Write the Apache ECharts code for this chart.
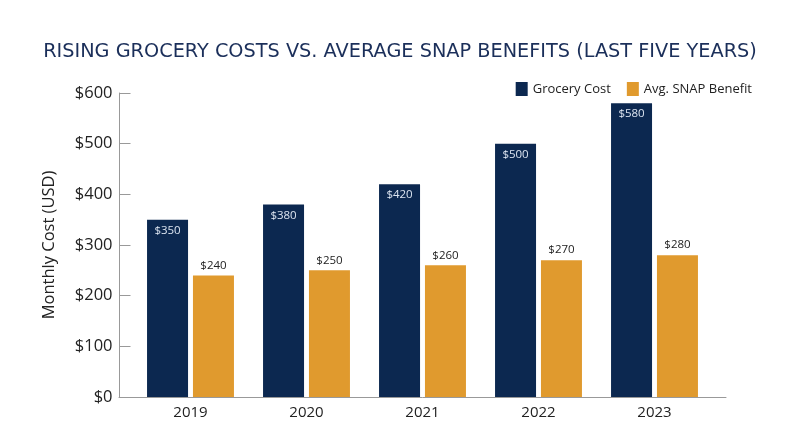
<!DOCTYPE html>
<html>
<head>
<meta charset="utf-8">
<style>
  html, body { margin: 0; padding: 0; background: #fff; }
  #main { width: 800px; height: 447px; }
</style>
<script src="https://cdn.jsdelivr.net/npm/echarts@6/dist/echarts.min.js"></script>
</head>
<body>
<div id="main"></div>
<script>
// chart data
var years = ['2019', '2020', '2021', '2022', '2023'];
var groceryCost = [350, 380, 420, 500, 580];
var snapBenefit = [240, 250, 260, 270, 280];
var yTicks = [0, 100, 200, 300, 400, 500, 600];

var navy = '#0c2850';
var gold = '#e09a2e';
var font = 'Open Sans';

var chart = echarts.init(document.getElementById('main'));

chart.setOption({
  animation: false,
  textStyle: { fontFamily: font },
  title: {
    text: 'RISING GROCERY COSTS VS. AVERAGE SNAP BENEFITS (LAST FIVE YEARS)',
    left: 'center',
    top: 37,
    textStyle: { color: '#1b2f5a', fontSize: 19.3, fontWeight: 'normal', fontFamily: 'DejaVu Sans' }
  },
  legend: {
    right: 43,
    top: 77,
    icon: 'rect',
    itemWidth: 12,
    itemHeight: 14,
    itemGap: 16,
    textStyle: { color: '#222', fontSize: 13, fontFamily: font },
    data: ['Grocery Cost', 'Avg. SNAP Benefit']
  },
  grid: [
    { left: 132.5, width: 580, top: 93, bottom: 50 },
    // only used for the long baseline
    { left: 119, right: 74, top: 93, bottom: 50 }
  ],
  xAxis: [
    {
      type: 'category',
      gridIndex: 0,
      data: years,
      axisLine: { show: false },
      axisTick: { show: false },
      axisLabel: { color: '#222', fontSize: 15, margin: 8 }
    },
    {
      type: 'value',
      gridIndex: 1,
      min: 0,
      max: 1,
      axisLine: { show: true, lineStyle: { color: '#999', width: 1 } },
      axisTick: { show: false },
      axisLabel: { show: false },
      splitLine: { show: false }
    }
  ],
  yAxis: [
    {
      type: 'value',
      gridIndex: 0,
      min: yTicks[0],
      max: yTicks[yTicks.length - 1],
      interval: 100,
      offset: 13,
      name: 'Monthly Cost (USD)',
      nameLocation: 'middle',
      nameGap: 62,
      nameTextStyle: { color: '#222', fontSize: 16.5 },
      axisLine: { show: true, lineStyle: { color: '#999', width: 1 } },
      axisTick: { show: true, inside: true, length: 11, lineStyle: { color: '#999' } },
      axisLabel: { color: '#222', fontSize: 16.5, margin: 7, formatter: '${value}' },
      splitLine: { show: false }
    },
    {
      type: 'value',
      gridIndex: 1,
      show: false,
      min: 0,
      max: 1
    }
  ],
  series: [
    {
      name: 'Grocery Cost',
      type: 'bar',
      xAxisIndex: 0,
      yAxisIndex: 0,
      data: groceryCost,
      barWidth: 41,
      barGap: '12%',
      itemStyle: { color: navy },
      label: {
        show: true,
        position: 'insideTop',
        distance: 5,
        color: '#dce4f0',
        fontSize: 11.5,
        formatter: '${c}'
      }
    },
    {
      name: 'Avg. SNAP Benefit',
      type: 'bar',
      xAxisIndex: 0,
      yAxisIndex: 0,
      data: snapBenefit,
      barWidth: 41,
      itemStyle: { color: gold },
      label: {
        show: true,
        position: 'top',
        distance: 4,
        color: '#222',
        fontSize: 11.5,
        formatter: '${c}'
      }
    }
  ]
});
</script>
</body>
</html>
